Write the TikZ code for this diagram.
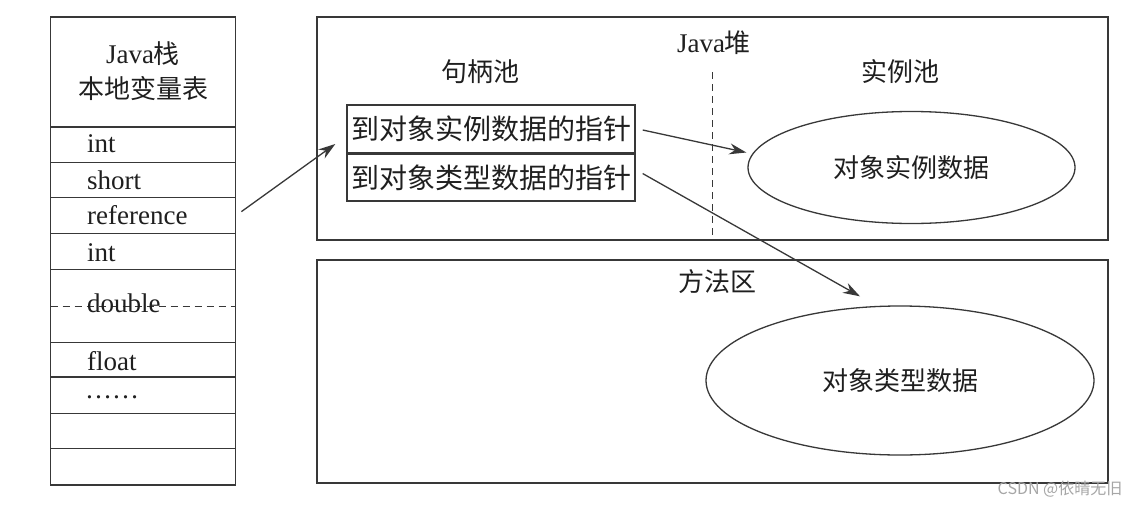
\documentclass[tikz,border=0pt]{standalone}
\usepackage{fontspec}
\setmainfont{Liberation Serif}
\newfontfamily\cjk{Noto Sans CJK SC}
\usetikzlibrary{shapes.geometric,arrows.meta,calc}
\definecolor{linec}{gray}{0.22}
\definecolor{txtc}{gray}{0.12}
\begin{document}
\begin{tikzpicture}[x=1pt,y=-1pt,
  box/.style={draw=linec, line width=1.4pt, rectangle, inner sep=0pt},
  lbl/.style={font=\fontsize{26}{30}\selectfont\cjk, inner sep=0pt, text=txtc},
  htxt/.style={font=\fontsize{28}{30}\selectfont\cjk, text=txtc},
  rowtxt/.style={font=\fontsize{27}{30}\selectfont, anchor=base west, inner sep=0pt, text=txtc},
  ell/.style={draw=linec, line width=1.3pt, ellipse, inner sep=0pt},
  arr/.style={-{Stealth[length=17pt,width=11pt]}, line width=1.3pt, draw=linec},
  sep/.style={draw=linec, line width=1.3pt},
]
\useasboundingbox (0,0) rectangle (1142,506);
\fill[white] (0,0) rectangle (1142,506);

% Java stack column
\node[box, minimum width=185pt, minimum height=468pt] (stack) at (143.2,251) {};
\node[inner sep=0pt, text=txtc] (stacktitle) at (143,54)
  {\fontsize{27}{30}\selectfont Java{\cjk\fontsize{26}{30}\selectfont 栈}};
\node[lbl] (stacksub) at (143,89) {本地变量表};
\foreach \yy in {127,162.3,197.7,233.7,269.7,342.3,377,413.7,448.3}
  \draw[sep] (50.7,\yy) -- (235.7,\yy);
\draw[linec, line width=1pt, dash pattern=on 7pt off 5pt] (50.7,306) -- (235.7,306);
\node[rowtxt] (r1) at (87,152) {int};
\node[rowtxt] (r2) at (87,189) {short};
\node[rowtxt] (ref) at (87,224) {reference};
\node[rowtxt] (r4) at (87,261) {int};
\node[rowtxt] (r5) at (87,312) {double};
\node[rowtxt] (r6) at (87,370) {float};
\node[rowtxt] (r7) at (85,398) {……};

% Java heap
\node[box, minimum width=791pt, minimum height=223pt] (heap) at (712.5,128.5) {};
\node[inner sep=0pt, text=txtc] (heaplbl) at (714,43) {\fontsize{27}{30}\selectfont Java{\cjk\fontsize{26}{30}\selectfont 堆}};
\draw[linec, line width=1.1pt, dash pattern=on 7pt off 5pt] (712.3,72) -- (712.3,240);
\node[lbl] (hpool) at (480,72) {句柄池};
\node[lbl] (ipool) at (900,72) {实例池};
\node[box, minimum width=288pt, minimum height=47.7pt, htxt] (h1) at (491,129) {到对象实例数据的指针};
\node[box, minimum width=288pt, minimum height=46.6pt, htxt, anchor=north] (h2) at (h1.south) {到对象类型数据的指针};
\node[ell, minimum width=327pt, minimum height=112pt, lbl] (e1) at (911.5,167.5) {对象实例数据};

% Method area
\node[box, minimum width=791pt, minimum height=223pt] (method) at (712.5,371.5) {};
\node[lbl] (mlbl) at (717,282) {方法区};
\node[ell, minimum width=388pt, minimum height=149pt, lbl] (e2) at (900,380.5) {对象类型数据};

% arrows
\draw[arr] ($(stack.east |- ref.center)+(5,-3)$) -- ($(h1.west)+(-11,15)$);
\draw[arr] ($(h1.east)+(7,1)$) -- ($(e1.west)+(-1,-15)$);
\draw[arr] ($(h2.east)+(7,-4)$) -- ($(e2.north)+(-40,-9)$);

% watermark
\node[inner sep=0pt, text=gray!70, font=\fontsize{16}{18}\selectfont\cjk] (wm) at (1060,489) {CSDN @依晴无旧};
\end{tikzpicture}
\end{document}
